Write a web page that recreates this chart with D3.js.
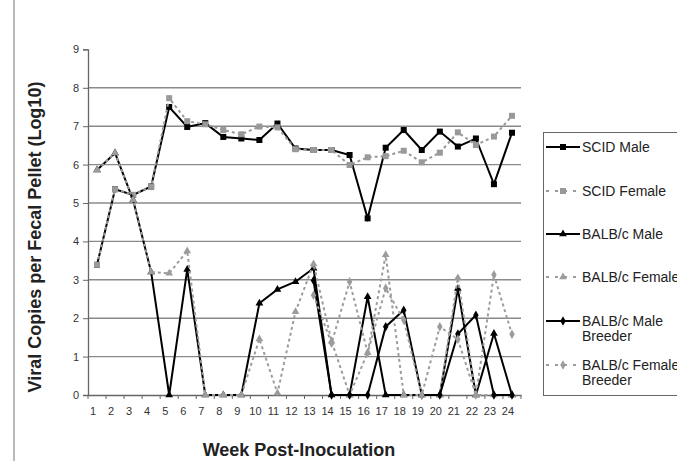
<!DOCTYPE html>
<html>
<head>
<meta charset="utf-8">
<script src="https://cdn.jsdelivr.net/npm/d3@7"></script>
<style>
  body { margin: 0; background: #fff; }
  svg { font-family: "Liberation Sans", Arial, sans-serif; }
</style>
</head>
<body>
<div id="chart"></div>
<script>
// weeks 1..24
const weeks = d3.range(1, 25);

const scidMale = [3.39, 5.36, 5.21, 5.43, 7.5, 6.98, 7.08, 6.72, 6.68, 6.64, 7.07, 6.42,
  6.38, 6.38, 6.25, 4.6, 6.44, 6.9, 6.38, 6.86, 6.47, 6.68, 5.49, 6.83];
const scidFemale = [3.39, 5.36, 5.21, 5.43, 7.73, 7.13, 7.05, 6.9, 6.79, 6.99, 6.97, 6.4,
  6.38, 6.38, 5.99, 6.19, 6.22, 6.36, 6.06, 6.31, 6.84, 6.51, 6.73, 7.27];
const balbMale = [5.86, 6.3, 5.08, 3.2, 0, 3.27, 0, 0, 0, 2.39, 2.75, 2.95,
  3.3, 0, 0, 2.56, 0, 0, 0, 0, 2.77, 0, 1.6, 0];
const balbFemale = [5.86, 6.3, 5.08, 3.2, 3.17, 3.75, 0, 0, 0, 1.46, 0.05, 2.17,
  3.41, 1.4, 0, 1.1, 3.65, 0, 0, 0, 3.05, 0, 0, 0];
// breeders start at week 13
const maleBreeder = [null, null, null, null, null, null, null, null, null, null, null, null,
  2.98, 0, 0, 0, 1.78, 2.21, 0, 0, 1.59, 2.08, 0, 0];
const femaleBreeder = [null, null, null, null, null, null, null, null, null, null, null, null,
  2.6, 1.35, 2.95, 1.1, 2.78, 1.95, 0, 1.78, 1.45, 0, 3.13, 1.58];

const yTicks = d3.range(0, 10);

const series = [
  { name: ['SCID Male'], values: scidMale, color: '#000', dash: null, shape: d3.symbolSquare, size: 36 },
  { name: ['SCID Female'], values: scidFemale, color: '#999', dash: '3,3', shape: d3.symbolSquare, size: 36 },
  { name: ['BALB/c Male'], values: balbMale, color: '#000', dash: null, shape: d3.symbolTriangle, size: 26 },
  { name: ['BALB/c Female'], values: balbFemale, color: '#9c9c9c', dash: '3,3', shape: d3.symbolTriangle, size: 26 },
  { name: ['BALB/c Male', 'Breeder'], values: maleBreeder, color: '#000', dash: null, shape: d3.symbolDiamond, size: 26 },
  { name: ['BALB/c Female', 'Breeder'], values: femaleBreeder, color: '#9c9c9c', dash: '3,3', shape: d3.symbolDiamond, size: 26 },
];

const width = 677, height = 461;
const svg = d3.select('#chart').append('svg')
  .attr('width', width).attr('height', height);

// outer chart border (left edge only visible)
svg.append('line')
  .attr('x1', 14).attr('x2', 14).attr('y1', 0).attr('y2', height)
  .attr('stroke', '#777').attr('stroke-width', 1);

const x = d3.scaleBand().domain(weeks).range([88, 521]).padding(0);
const y = d3.scaleLinear().domain([0, 9]).range([395, 49.4]);
const cx = (w) => x(w) + x.bandwidth() / 2;

// gridlines
svg.append('g')
  .selectAll('line')
  .data(yTicks.filter(d => d > 0 && d < 9))
  .join('line')
  .attr('x1', 88).attr('x2', 521)
  .attr('y1', d => y(d)).attr('y2', d => y(d))
  .attr('stroke', '#8a8a8a').attr('stroke-width', 1.4);

// y axis
const yAxis = svg.append('g')
  .attr('transform', 'translate(88,0)')
  .call(d3.axisLeft(y).tickValues(yTicks).tickSize(5).tickPadding(4));
yAxis.select('.domain').attr('stroke', '#666').attr('stroke-width', 1.3);
yAxis.selectAll('.tick line').attr('stroke', '#666');
yAxis.selectAll('text').attr('font-size', 11).attr('fill', '#333');

// x axis: labels under categories, ticks at category boundaries
const xAxis = svg.append('g')
  .attr('transform', 'translate(0,395)')
  .call(d3.axisBottom(x).tickSize(0).tickPadding(12));
xAxis.select('.domain').attr('stroke', '#666').attr('stroke-width', 1.3);
xAxis.selectAll('text').attr('font-size', 11).attr('fill', '#333').attr('dx', -4);
xAxis.selectAll('.bound')
  .data(weeks.map(w => x(w)).concat([x(24) + x.bandwidth()]))
  .join('line')
  .attr('class', 'bound')
  .attr('x1', d => d).attr('x2', d => d)
  .attr('y1', 0).attr('y2', 4)
  .attr('stroke', '#666');

// series
series.forEach(s => {
  const pts = weeks.map((w, i) => ({ w, v: s.values[i] })).filter(d => d.v !== null);
  const line = d3.line().x(d => cx(d.w)).y(d => y(d.v));
  svg.append('path')
    .datum(pts)
    .attr('d', line)
    .attr('fill', 'none')
    .attr('stroke', s.color)
    .attr('stroke-width', 2)
    .attr('stroke-dasharray', s.dash);
  svg.append('g')
    .selectAll('path')
    .data(pts)
    .join('path')
    .attr('transform', d => `translate(${cx(d.w)},${y(d.v)})`)
    .attr('d', d3.symbol().type(s.shape).size(s.size))
    .attr('fill', s.color);
});

// axis titles
svg.append('text')
  .attr('x', 299).attr('y', 456)
  .attr('text-anchor', 'middle')
  .attr('font-size', 18).attr('font-weight', 'bold').attr('fill', '#222')
  .text('Week Post-Inoculation');

svg.append('text')
  .attr('transform', 'translate(41,237) rotate(-90)')
  .attr('text-anchor', 'middle')
  .attr('font-size', 18).attr('font-weight', 'bold').attr('fill', '#222')
  .text('Viral Copies per Fecal Pellet (Log10)');

// legend
const legend = svg.append('g');
legend.append('rect')
  .attr('x', 543.5).attr('y', 132.5).attr('width', 160).attr('height', 263)
  .attr('fill', '#fff').attr('stroke', '#666');

const legendY = [147, 191, 234, 277, 321, 365];
series.forEach((s, i) => {
  const g = legend.append('g').attr('transform', `translate(0,${legendY[i]})`);
  g.append('line')
    .attr('x1', 546).attr('x2', 580).attr('y1', 0).attr('y2', 0)
    .attr('stroke', s.color).attr('stroke-width', 2)
    .attr('stroke-dasharray', s.dash ? '3,6' : null);
  g.append('path')
    .attr('transform', 'translate(563,0)')
    .attr('d', d3.symbol().type(s.shape).size(s.size))
    .attr('fill', s.color);
  s.name.forEach((t, j) => {
    g.append('text')
      .attr('x', 582).attr('y', j * 15 + 5)
      .attr('font-size', 14).attr('fill', '#222')
      .text(t);
  });
});
</script>
</body>
</html>
